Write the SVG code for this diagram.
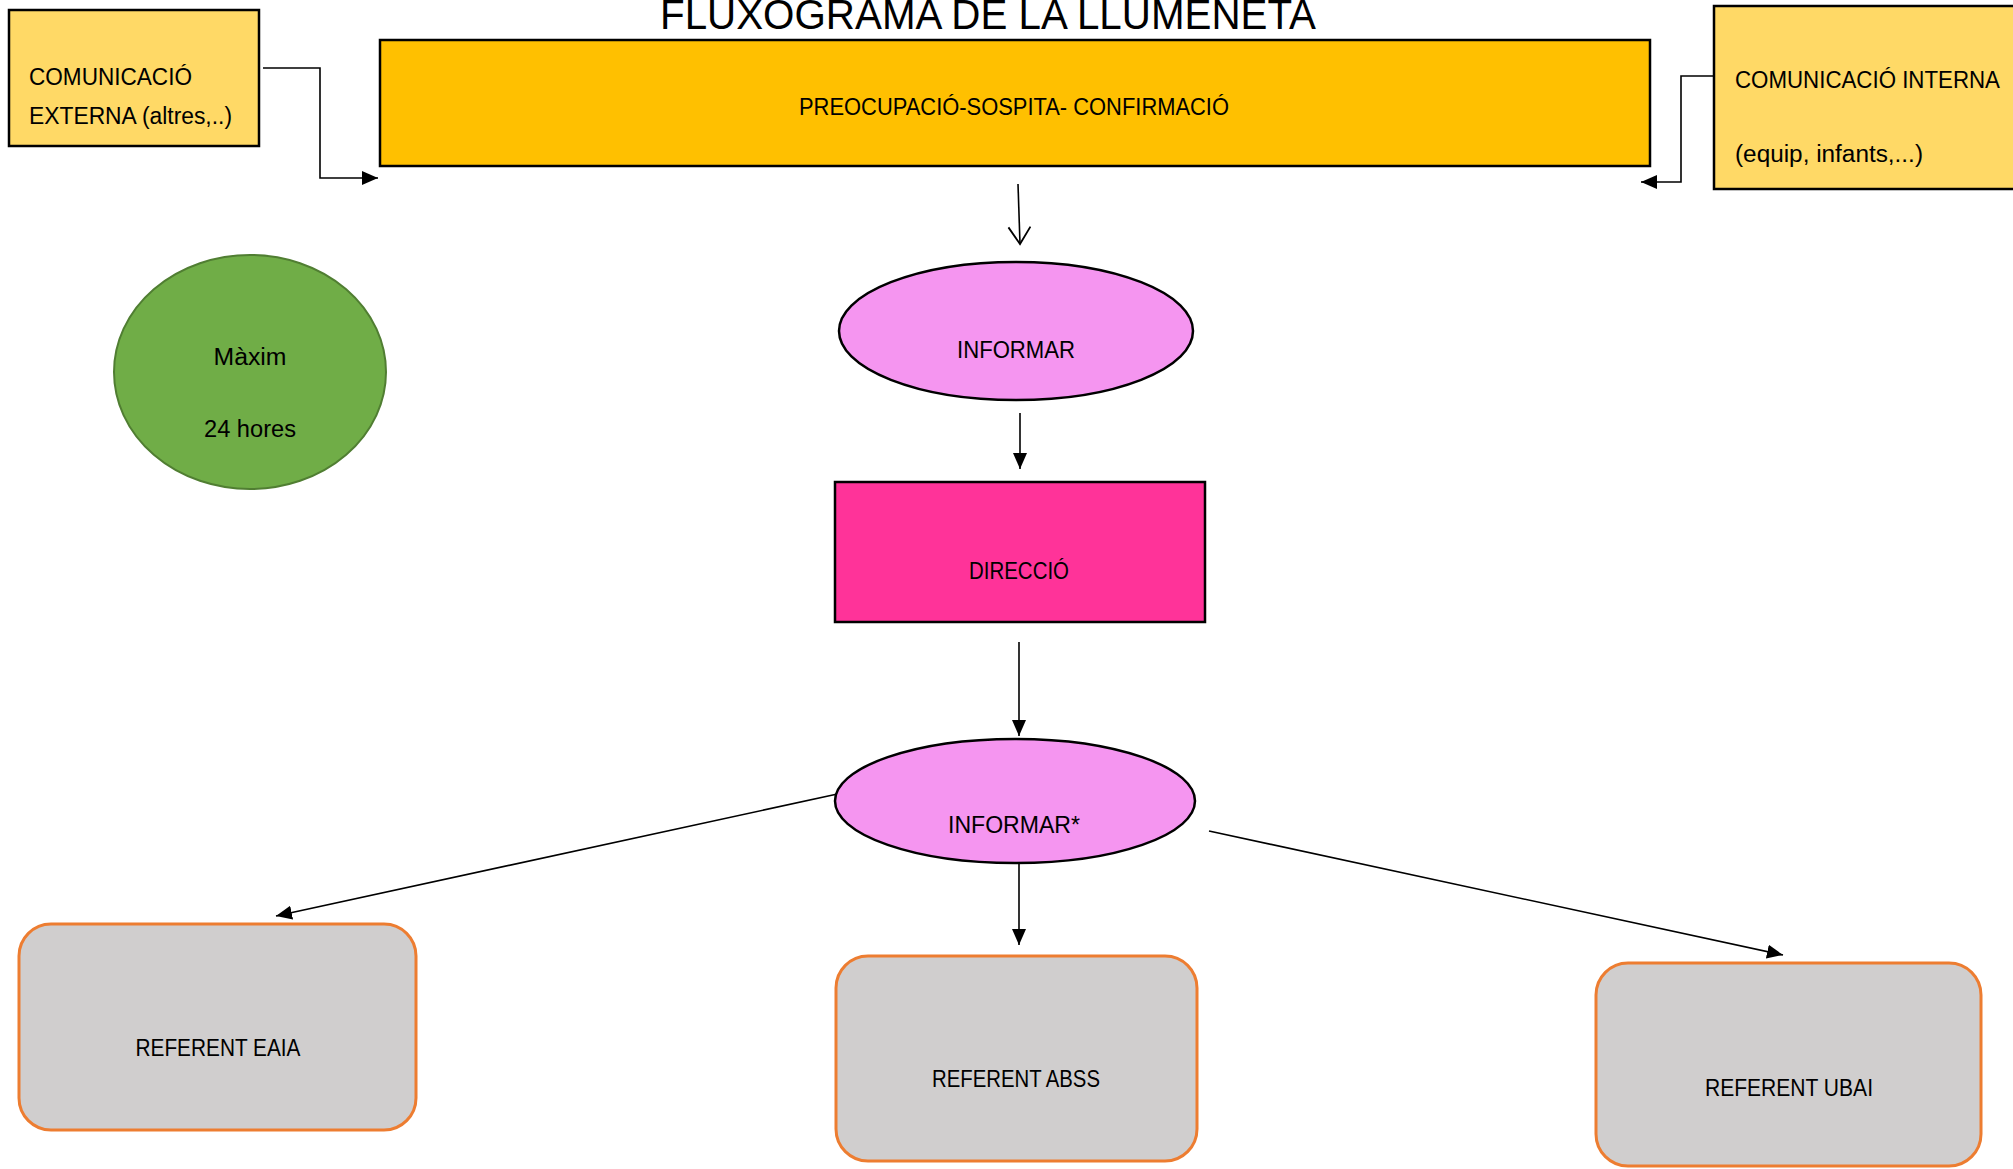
<svg xmlns="http://www.w3.org/2000/svg" width="2013" height="1169" viewBox="0 0 2013 1169">
<style>
text{font-family:"Liberation Sans",Arial,sans-serif;font-size:23.5px;fill:#000}
.c{text-anchor:middle}
.box{stroke:#000;stroke-width:2.5}
.ref{fill:#D0CECE;stroke:#ED7D31;stroke-width:3}
.pink{fill:#F595F0;stroke:#000;stroke-width:2.5}
.ln{fill:none;stroke:#000;stroke-width:1.6}
</style>
<defs>
<marker id="ah" markerWidth="16" markerHeight="14" refX="16" refY="7" orient="auto" markerUnits="userSpaceOnUse"><path d="M0,0 L16,7 L0,14 Z" fill="#000"/></marker>
<marker id="open" markerWidth="24" markerHeight="24" refX="20" refY="12" orient="auto" markerUnits="userSpaceOnUse"><path d="M3,1 L20,12 L3,23" fill="none" stroke="#000" stroke-width="1.8"/></marker>
</defs>
<rect width="2013" height="1169" fill="#fff"/>
<text id="title" class="c" x="988" y="29" style="font-size:42px" textLength="656" lengthAdjust="spacingAndGlyphs">FLUXOGRAMA DE LA LLUMENETA</text>
<g id="connectors">
<polyline class="ln" points="263,68 320,68 320,178 378,178" marker-end="url(#ah)"/>
<polyline class="ln" points="1722,76 1681,76 1681,182 1641,182" marker-end="url(#ah)"/>
<line class="ln" x1="1018" y1="184" x2="1020" y2="244" marker-end="url(#open)"/>
<line class="ln" x1="1020" y1="413" x2="1020" y2="469" marker-end="url(#ah)"/>
<line class="ln" x1="1019" y1="642" x2="1019" y2="736" marker-end="url(#ah)"/>
<line class="ln" x1="1019" y1="864" x2="1019" y2="945" marker-end="url(#ah)"/>
<line class="ln" x1="842" y1="793" x2="276" y2="916" marker-end="url(#ah)"/>
<line class="ln" x1="1209" y1="831" x2="1783" y2="955" marker-end="url(#ah)"/>
</g>
<g id="ext">
<rect class="box" x="9" y="10" width="250" height="136" fill="#FFD966"/>
<text x="29" y="85" textLength="163" lengthAdjust="spacingAndGlyphs">COMUNICACIÓ</text>
<text x="29" y="124" textLength="203" lengthAdjust="spacingAndGlyphs">EXTERNA (altres,..)</text>
</g>
<g id="top">
<rect class="box" x="380" y="40" width="1270" height="126" fill="#FFC000"/>
<text class="c" x="1014" y="115" textLength="430" lengthAdjust="spacingAndGlyphs">PREOCUPACIÓ-SOSPITA- CONFIRMACIÓ</text>
</g>
<g id="int">
<rect class="box" x="1714" y="6" width="320" height="183" fill="#FFD966"/>
<text x="1735" y="88" textLength="265" lengthAdjust="spacingAndGlyphs">COMUNICACIÓ INTERNA</text>
<text x="1735" y="162" textLength="188" lengthAdjust="spacingAndGlyphs">(equip, infants,...)</text>
</g>
<g id="maxim">
<ellipse cx="250" cy="372" rx="136" ry="117" fill="#70AD47" stroke="#507E32" stroke-width="2"/>
<text class="c" x="250" y="365" textLength="73" lengthAdjust="spacingAndGlyphs">Màxim</text>
<text class="c" x="250" y="437" textLength="92" lengthAdjust="spacingAndGlyphs">24 hores</text>
</g>
<g id="informar1">
<ellipse class="pink" cx="1016" cy="331" rx="177" ry="69"/>
<text class="c" x="1016" y="358" textLength="118" lengthAdjust="spacingAndGlyphs">INFORMAR</text>
</g>
<g id="direccio">
<rect class="box" x="835" y="482" width="370" height="140" fill="#FF3399"/>
<text class="c" x="1019" y="579" textLength="100" lengthAdjust="spacingAndGlyphs">DIRECCIÓ</text>
</g>
<g id="informar2">
<ellipse class="pink" cx="1015" cy="801" rx="180" ry="62"/>
<text class="c" x="1014" y="833" textLength="132" lengthAdjust="spacingAndGlyphs">INFORMAR*</text>
</g>
<g id="eaia">
<rect class="ref" x="19" y="924" width="397" height="206" rx="32" ry="32"/>
<text class="c" x="218" y="1056" textLength="165" lengthAdjust="spacingAndGlyphs">REFERENT EAIA</text>
</g>
<g id="abss">
<rect class="ref" x="836" y="956" width="361" height="205" rx="32" ry="32"/>
<text class="c" x="1016" y="1087" textLength="168" lengthAdjust="spacingAndGlyphs">REFERENT ABSS</text>
</g>
<g id="ubai">
<rect class="ref" x="1596" y="963" width="385" height="203" rx="32" ry="32"/>
<text class="c" x="1789" y="1096" textLength="168" lengthAdjust="spacingAndGlyphs">REFERENT UBAI</text>
</g>
</svg>
